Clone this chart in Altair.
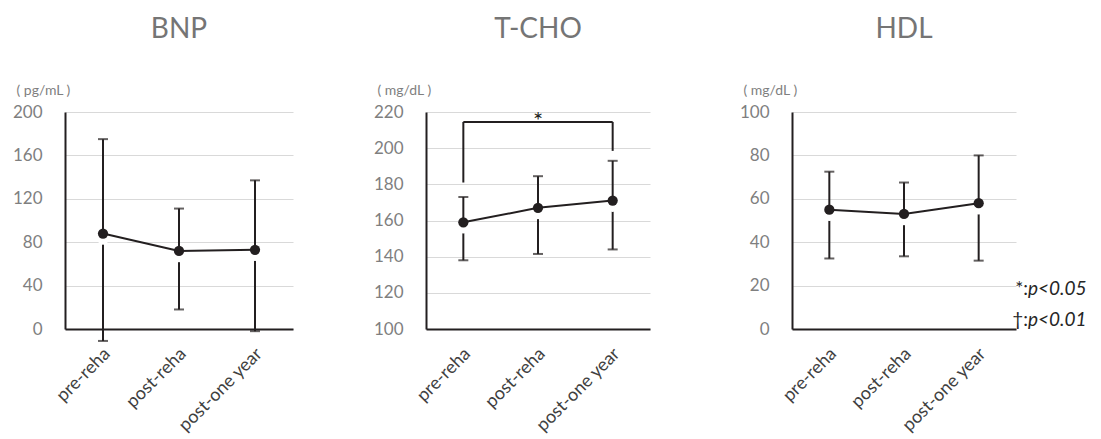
import altair as alt
import pandas as pd

categories = ["pre-reha", "post-reha", "post-one year"]

bnp_mean = [88, 72, 73]
bnp_upper = [175, 111, 137]
bnp_lower = [-11, 18, -2]

tcho_mean = [159, 167, 171]
tcho_upper = [173, 184.5, 193]
tcho_lower = [138, 141.5, 144]

hdl_mean = [55, 53, 58]
hdl_upper = [72.5, 67.5, 80]
hdl_lower = [32.5, 33.5, 31.5]

bnp_ticks = [0, 40, 80, 120, 160, 200]
tcho_ticks = [100, 120, 140, 160, 180, 200, 220]
hdl_ticks = [0, 20, 40, 60, 80, 100]

sig_pair = ["pre-reha", "post-one year"]
sig_mid = "post-reha"
sig_top = 214.5
sig_ends = [181, 198.5]
sig_mark = "*"

legend_symbols = ["*:", "†:"]
legend_texts = ["p<0.05", "p<0.01"]

FONT = "Lato"
INK = "#231f20"
GRAY = "#7f7f7f"


def panel(title, unit, mean, lo, hi, ticks, width, extent, extras=()):
    df = pd.DataFrame({"cat": categories, "mean": mean, "lo": lo, "hi": hi})
    xscale = alt.Scale(type="point", padding=0.5, domain=categories)
    xaxis = alt.Axis(
        title=None, labelAngle=-45, labelAlign="right", labelBaseline="middle",
        labelFont=FONT, labelFontSize=18, labelColor="#404040", labelPadding=22,
        labelOffset=4,
        grid=False, ticks=False, tickSize=0, domainColor=INK, domainWidth=2,
    )
    yscale = alt.Scale(domain=[ticks[0], ticks[-1]], nice=False, zero=False)
    yaxis = alt.Axis(
        values=ticks, format="d", title=unit, titleAngle=0, titleAlign="left",
        titleBaseline="middle", titleX=-49, titleY=-22, titleFont=FONT,
        titleFontSize=14, titleFontWeight="normal", titleColor=GRAY,
        labelFont=FONT, labelFontSize=17, labelColor=GRAY, labelPadding=23,
        ticks=False, tickSize=0, grid=True, gridColor="#d9d9d9", gridWidth=1,
        domainColor=INK, domainWidth=2, minExtent=extent, maxExtent=extent,
    )
    X = alt.X("cat:N", scale=xscale, axis=xaxis)
    base = alt.Chart(df)
    bars = base.mark_rule(color=INK, strokeWidth=2).encode(
        x=X, y=alt.Y("lo:Q", scale=yscale, axis=yaxis), y2="hi:Q")
    cap_hi = base.mark_tick(color=INK, thickness=2, size=10).encode(
        x=X, y=alt.Y("hi:Q", scale=yscale, axis=yaxis))
    cap_lo = base.mark_tick(color=INK, thickness=2, size=10).encode(
        x=X, y=alt.Y("lo:Q", scale=yscale, axis=yaxis))
    gap = base.mark_circle(color="white", opacity=1, size=113, yOffset=6).encode(
        x=X, y=alt.Y("mean:Q", scale=yscale, axis=yaxis))
    line = base.mark_line(color=INK, strokeWidth=2).encode(
        x=X, y=alt.Y("mean:Q", scale=yscale, axis=yaxis))
    pts = base.mark_circle(color=INK, opacity=1, size=105).encode(
        x=X, y=alt.Y("mean:Q", scale=yscale, axis=yaxis))
    layers = [bars, cap_hi, cap_lo, gap, line, pts]
    for e in extras:
        layers.extend(e(xscale, xaxis, yscale, yaxis))
    return alt.layer(*layers).properties(
        width=width, height=217,
        title=alt.TitleParams(text=title, font=FONT, fontSize=28,
                              fontWeight="normal", color="#757575",
                              anchor="middle", offset=39),
    )


def significance(xscale, xaxis, yscale, yaxis):
    dv = pd.DataFrame({"cat": sig_pair, "y1": sig_ends, "y2": [sig_top, sig_top]})
    vert = alt.Chart(dv).mark_rule(color=INK, strokeWidth=2).encode(
        x=alt.X("cat:N", scale=xscale, axis=xaxis),
        y=alt.Y("y1:Q", scale=yscale, axis=yaxis), y2="y2:Q")
    dh = pd.DataFrame({"a": [sig_pair[0]], "b": [sig_pair[1]], "y": [sig_top]})
    horiz = alt.Chart(dh).mark_rule(color=INK, strokeWidth=2).encode(
        x=alt.X("a:N", scale=xscale, axis=xaxis), x2="b:N",
        y=alt.Y("y:Q", scale=yscale, axis=yaxis))
    ds = pd.DataFrame({"cat": [sig_mid], "y": [sig_top], "t": [sig_mark]})
    st = alt.Chart(ds).mark_text(font=FONT, fontSize=24, color=INK,
                                 baseline="alphabetic", dy=7).encode(
        x=alt.X("cat:N", scale=xscale, axis=xaxis),
        y=alt.Y("y:Q", scale=yscale, axis=yaxis), text="t:N")
    return [vert, horiz, st]


def legend(xscale, xaxis, yscale, yaxis):
    out = []
    for i, (s, t) in enumerate(zip(legend_symbols, legend_texts)):
        d = pd.DataFrame({"s": [s], "t": [t]})
        ypos = 177 + 31 * i
        out.append(alt.Chart(d).mark_text(
            font=FONT, fontSize=19, color="#262626", align="right",
            baseline="middle").encode(x=alt.value(236), y=alt.value(ypos), text="s:N"))
        out.append(alt.Chart(d).mark_text(
            font=FONT, fontSize=19, fontStyle="italic", color="#262626",
            align="left", baseline="middle").encode(
            x=alt.value(236), y=alt.value(ypos), text="t:N"))
    return out


p1 = panel("BNP", "( pg/mL )", bnp_mean, bnp_lower, bnp_upper, bnp_ticks, 228, 57)
p2 = panel("T-CHO", "( mg/dL )", tcho_mean, tcho_lower, tcho_upper, tcho_ticks, 224, 57,
           extras=(significance,))
p3 = panel("HDL", "( mg/dL )", hdl_mean, hdl_lower, hdl_upper, hdl_ticks, 224, 66,
           extras=(legend,))

chart = alt.hconcat(p1, p2, p3, spacing=76).properties(
    padding={"top": 8, "left": 0, "right": 0, "bottom": 0}
).configure_view(stroke=None)

chart.save("out.html", embed_options={"renderer": "svg", "actions": False})
